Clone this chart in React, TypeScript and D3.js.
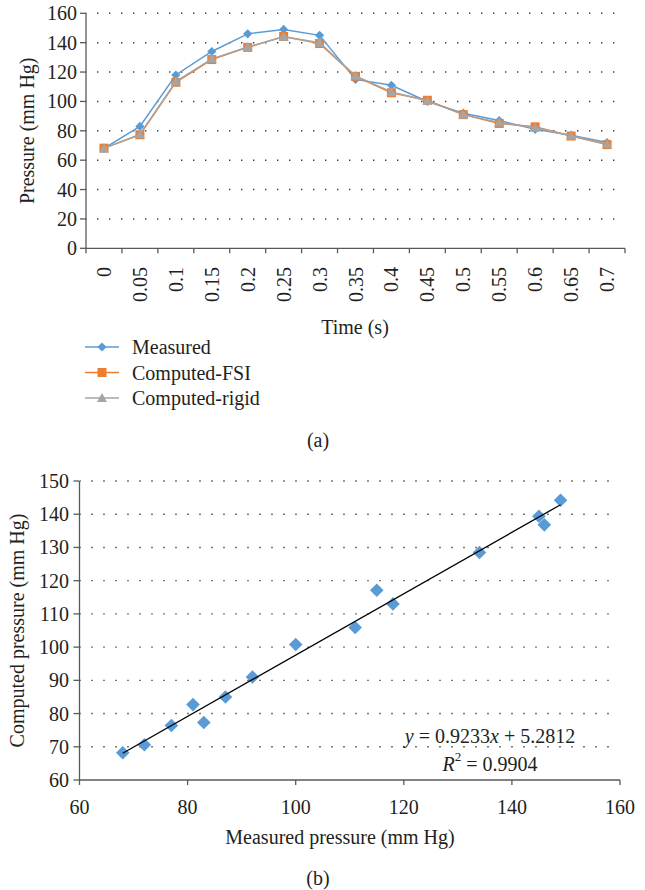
import React from "react";
import * as d3 from "d3";

const times = ["0", "0.05", "0.1", "0.15", "0.2", "0.25", "0.3", "0.35", "0.4", "0.45", "0.5", "0.55", "0.6", "0.65", "0.7"];
const measured = [68, 83, 118, 134, 146, 149, 145, 115, 111, 100, 92, 87, 81, 77, 72];
const computedFSI = [68.2, 77.3, 113, 128.5, 136.8, 144.2, 139.4, 117.1, 105.9, 100.8, 91, 85, 82.7, 76.4, 70.6];
const computedRigid = [68, 77.6, 113.5, 129, 137, 144, 140, 117.4, 106.5, 100.5, 91, 85.6, 82, 76.6, 71];
const yTicksA = [0, 20, 40, 60, 80, 100, 120, 140, 160];
const xTicksB = [60, 80, 100, 120, 140, 160];
const yTicksB = [60, 70, 80, 90, 100, 110, 120, 130, 140, 150];
const slope = 0.9233;
const intercept = 5.2812;
const legendNames = ["Measured", "Computed-FSI", "Computed-rigid"];

const FONT = "'Liberation Serif', 'DejaVu Serif', serif";
const BLUE = "#5B9BD5";
const ORANGE = "#ED7D31";
const GRAY = "#A5A5A5";
const AXIS = "#595959";
const TXT = "#231F20";

function Marker({ kind, x, y, big }: { kind: number; x: number; y: number; big?: boolean }) {
  if (kind === 0) {
    const r = big ? 6.8 : 4.6;
    return <path d={`M${x},${y - r}L${x + r},${y}L${x},${y + r}L${x - r},${y}Z`} fill={BLUE} />;
  }
  if (kind === 1) {
    const s = 4.5;
    return <rect x={x - s} y={y - s} width={2 * s} height={2 * s} fill={ORANGE} />;
  }
  const s = 5;
  return <path d={`M${x},${y - s}L${x + s},${y + s * 0.8}L${x - s},${y + s * 0.8}Z`} fill={GRAY} />;
}

export default function App() {
  // Chart (a)
  const xa = d3.scaleBand<string>().domain(times).range([86, 625]);
  const ya = d3.scaleLinear().domain([0, 160]).range([248.3, 13.3]);
  const series = [measured, computedFSI, computedRigid];
  const colors = [BLUE, ORANGE, GRAY];
  const line = d3
    .line<number>()
    .x((_, i) => (xa(times[i]) as number) + xa.bandwidth() / 2)
    .y((d) => ya(d));

  // Chart (b)
  const xb = d3.scaleLinear().domain([60, 160]).range([79.5, 620]);
  const yb = d3.scaleLinear().domain([60, 150]).range([780, 481]);
  const xMin = d3.min(measured) as number;
  const xMax = d3.max(measured) as number;

  const fs = 20;

  return (
    <svg width={645} height={890} style={{ position: "absolute", left: 0, top: 0, display: "block", fontFamily: FONT, background: "#fff" }}>
      {/* ---------- Chart (a) ---------- */}
      {yTicksA.filter((t) => t > 0).map((t) => (
        <line key={"ga" + t} x1={86} x2={622} y1={ya(t)} y2={ya(t)} stroke="#404040" strokeWidth={1.4} strokeDasharray="1.4,10.6" strokeDashoffset={-11} />
      ))}
      <line x1={86} x2={86} y1={ya(160)} y2={ya(0)} stroke={AXIS} strokeWidth={1.3} />
      <line x1={86} x2={625} y1={ya(0)} y2={ya(0)} stroke={AXIS} strokeWidth={1.3} />
      {yTicksA.map((t) => (
        <g key={"ya" + t}>
          <line x1={80} x2={86} y1={ya(t)} y2={ya(t)} stroke={AXIS} strokeWidth={1.3} />
          <text x={77} y={ya(t)} textAnchor="end" dominantBaseline="central" fontSize={fs} fill={TXT}>{t}</text>
        </g>
      ))}
      {times.map((t, i) => (
        <line key={"xt" + i} x1={xa(t) as number} x2={xa(t) as number} y1={ya(0)} y2={ya(0) + 5} stroke={AXIS} strokeWidth={1.3} />
      ))}
      <line x1={625} x2={625} y1={ya(0)} y2={ya(0) + 5} stroke={AXIS} strokeWidth={1.3} />
      {times.map((t) => {
        const cx = (xa(t) as number) + xa.bandwidth() / 2;
        return (
          <text key={"xl" + t} transform={`translate(${cx},${267}) rotate(-90)`} textAnchor="end" dominantBaseline="central" fontSize={fs} fill={TXT}>{t}</text>
        );
      })}
      <text transform={`translate(27,${(ya(0) + ya(160)) / 2}) rotate(-90)`} textAnchor="middle" dominantBaseline="central" fontSize={fs} fill={TXT}>Pressure (mm Hg)</text>
      <text x={355} y={327} textAnchor="middle" dominantBaseline="central" fontSize={fs} fill={TXT}>Time (s)</text>

      {series.map((s, k) => (
        <g key={"s" + k}>
          <path d={line(s) as string} fill="none" stroke={colors[k]} strokeWidth={1.5} />
          {s.map((v, i) => (
            <Marker key={i} kind={k} x={(xa(times[i]) as number) + xa.bandwidth() / 2} y={ya(v)} />
          ))}
        </g>
      ))}

      {legendNames.map((n, k) => {
        const ly = 347 + k * 25.5;
        return (
          <g key={"lg" + k}>
            <line x1={85} x2={119} y1={ly} y2={ly} stroke={colors[k]} strokeWidth={1.5} />
            <Marker kind={k} x={102} y={ly} />
            <text x={132} y={ly} dominantBaseline="central" fontSize={fs} fill={TXT}>{n}</text>
          </g>
        );
      })}
      <text x={318} y={440} textAnchor="middle" dominantBaseline="central" fontSize={fs} fill={TXT}>(a)</text>

      {/* ---------- Chart (b) ---------- */}
      {yTicksB.filter((t) => t > 60).map((t) => (
        <line key={"gb" + t} x1={80} x2={612} y1={yb(t)} y2={yb(t)} stroke="#404040" strokeWidth={1.4} strokeDasharray="1.4,10.6" strokeDashoffset={-11.3} />
      ))}
      <line x1={79.5} x2={79.5} y1={yb(150)} y2={yb(60)} stroke={AXIS} strokeWidth={1.3} />
      <line x1={79.5} x2={620} y1={yb(60)} y2={yb(60)} stroke={AXIS} strokeWidth={1.3} />
      {yTicksB.map((t) => (
        <g key={"yb" + t}>
          <line x1={73.5} x2={79.5} y1={yb(t)} y2={yb(t)} stroke={AXIS} strokeWidth={1.3} />
          <text x={69} y={yb(t)} textAnchor="end" dominantBaseline="central" fontSize={fs} fill={TXT}>{t}</text>
        </g>
      ))}
      {xTicksB.map((t) => (
        <g key={"xb" + t}>
          <line x1={xb(t)} x2={xb(t)} y1={yb(60)} y2={yb(60) + 5} stroke={AXIS} strokeWidth={1.3} />
          <text x={xb(t)} y={807} textAnchor="middle" dominantBaseline="central" fontSize={fs} fill={TXT}>{t}</text>
        </g>
      ))}
      <text transform={`translate(17,${(yb(60) + yb(150)) / 2}) rotate(-90)`} textAnchor="middle" dominantBaseline="central" fontSize={fs} fill={TXT}>Computed pressure (mm Hg)</text>
      <text x={340} y={837} textAnchor="middle" dominantBaseline="central" fontSize={fs} fill={TXT}>Measured pressure (mm Hg)</text>

      {measured.map((m, i) => (
        <Marker key={"pb" + i} kind={0} big x={xb(m)} y={yb(computedFSI[i])} />
      ))}
      <line x1={xb(xMin)} y1={yb(slope * xMin + intercept)} x2={xb(xMax)} y2={yb(slope * xMax + intercept)} stroke="#000" strokeWidth={1.3} />

      <text x={490} y={736} textAnchor="middle" dominantBaseline="central" fontSize={fs} fill={TXT}>
        <tspan fontStyle="italic">y</tspan> = 0.9233<tspan fontStyle="italic">x</tspan> + 5.2812
      </text>
      <text x={490} y={764} textAnchor="middle" dominantBaseline="central" fontSize={fs} fill={TXT}>
        <tspan fontStyle="italic">R</tspan>
        <tspan dy={-8} fontSize={13}>2</tspan>
        <tspan dy={8}> = 0.9904</tspan>
      </text>
      <text x={318} y={878} textAnchor="middle" dominantBaseline="central" fontSize={fs} fill={TXT}>(b)</text>
    </svg>
  );
}
